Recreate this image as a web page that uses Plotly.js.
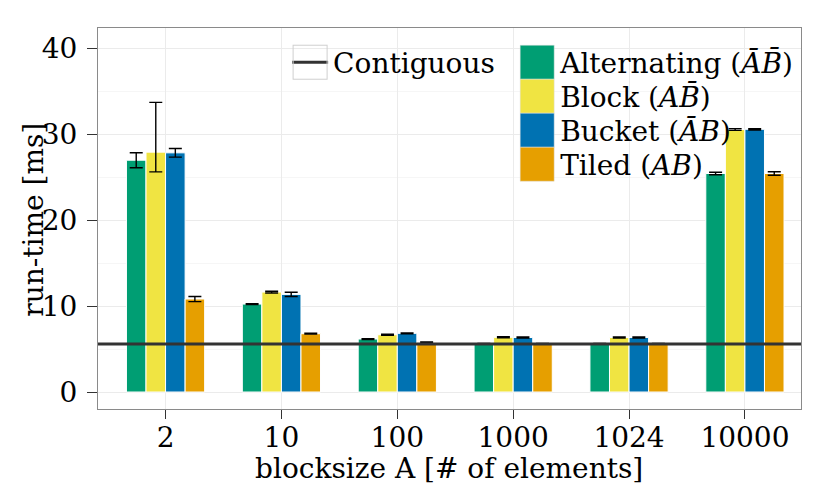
<!DOCTYPE html>
<html>
<head>
<meta charset="utf-8">
<script src="https://cdn.plot.ly/plotly-3.0.1.min.js"></script>
<style>
  body { margin: 0; background: #fff; }
  #myDiv { width: 830px; height: 498px; }
</style>
</head>
<body>
<div id="myDiv"></div>
<script>
//  ======== DATA ========
var categories = ['2', '10', '100', '1000', '1024', '10000'];

var alternating    = [27.0, 10.24, 6.17, 5.62, 5.62, 25.45];
var alternatingErr = [0.87, 0.05, 0.05, 0.04, 0.04, 0.15];

var block          = [27.94, 11.64, 6.67, 6.37, 6.35, 30.58];
var blockErrPlus   = [5.8, 0.1, 0.07, 0.06, 0.06, 0.1];
var blockErrMinus  = [2.3, 0.1, 0.07, 0.06, 0.06, 0.1];

var bucket         = [27.86, 11.37, 6.83, 6.35, 6.35, 30.6];
var bucketErr      = [0.5, 0.25, 0.05, 0.06, 0.06, 0.08];

var tiled          = [10.83, 6.79, 5.78, 5.62, 5.62, 25.45];
var tiledErr       = [0.3, 0.05, 0.04, 0.04, 0.04, 0.2];

var contiguous = 5.6;

var names = [
  'Alternating (<i>\u0100B\u0304</i>)',
  'Block (<i>AB\u0304</i>)',
  'Bucket (<i>\u0100B</i>)',
  'Tiled (<i>AB</i>)'
];
var colors = ['#009E73', '#F0E442', '#0072B2', '#E69F00'];

var xTitle = 'blocksize A [# of elements]';
var yTitle = 'run-time [ms]';

//  ======== PLOTLY ========
var FONT = 'DejaVu Serif, serif';
var FS = 28;
var KEY = 34;        // legend key size (ggplot style squares)
var ITEMW = 36;      // legend item width
var KEYX = 5 + ITEMW / 2;   // key centre inside a legend item

function barTrace(i, y, plus, minus) {
  var err = {
    type: 'data',
    array: plus,
    visible: true,
    color: '#000',
    thickness: 1.4,
    width: 6.5
  };
  if (minus) {
    err.symmetric = false;
    err.arrayminus = minus;
  }
  return {
    type: 'bar',
    x: categories,
    y: y,
    name: names[i],
    legend: 'legend2',
    marker: { color: colors[i], line: { color: '#fff', width: 1 } },
    error_y: err
  };
}

var data = [
  barTrace(0, alternating, alternatingErr),
  barTrace(1, block, blockErrPlus, blockErrMinus),
  barTrace(2, bucket, bucketErr),
  barTrace(3, tiled, tiledErr)
];

var layout = {
  width: 830,
  height: 498,
  margin: { l: 98, r: 29, t: 28, b: 89, pad: 0 },
  paper_bgcolor: '#fff',
  plot_bgcolor: '#fff',
  font: { family: FONT, size: FS, color: '#000' },
  barmode: 'group',
  bargap: 0.325,
  bargroupgap: 0,
  xaxis: {
    type: 'category',
    range: [-0.583, 5.484],
    showgrid: true,
    gridcolor: '#ebebeb',
    gridwidth: 1,
    showline: true,
    linecolor: '#8a8a8a',
    linewidth: 1,
    mirror: true,
    ticks: 'outside',
    ticklen: 9,
    tickcolor: '#333',
    ticklabelstandoff: -6,
    tickfont: { family: FONT, size: FS, color: '#000' },
    automargin: false,
    fixedrange: true
  },
  yaxis: {
    range: [-1.98, 42.4],
    tickvals: [0, 10, 20, 30, 40],
    showgrid: true,
    gridcolor: '#ebebeb',
    gridwidth: 1,
    minor: { tickvals: [5, 15, 25, 35], showgrid: true, gridcolor: '#f6f6f6', ticks: '' },
    zeroline: false,
    showline: true,
    linecolor: '#8a8a8a',
    linewidth: 1,
    mirror: true,
    ticks: 'outside',
    ticklen: 10,
    tickcolor: '#333',
    ticklabelstandoff: 4,
    tickfont: { family: FONT, size: FS, color: '#000' },
    automargin: false,
    fixedrange: true
  },
  annotations: [
    { text: xTitle, xref: 'paper', yref: 'paper', x: 0.4986, y: -0.155,
      xanchor: 'center', yanchor: 'middle', showarrow: false,
      font: { family: FONT, size: FS, color: '#000' } },
    { text: yTitle, xref: 'paper', yref: 'paper', x: -0.093, y: 0.496,
      xanchor: 'center', yanchor: 'middle', showarrow: false, textangle: -90,
      font: { family: FONT, size: FS, color: '#000' } }
  ],
  shapes: [{
    type: 'line',
    xref: 'paper', x0: 0, x1: 1,
    yref: 'y', y0: contiguous, y1: contiguous,
    line: { color: '#333', width: 3 },
    name: 'Contiguous',
    showlegend: true,
    legend: 'legend'
  }],
  legend: {
    x: 0.269, xanchor: 'left',
    y: 0.975, yanchor: 'top',
    bgcolor: 'rgba(0,0,0,0)',
    borderwidth: 0,
    itemwidth: ITEMW,
    font: { family: FONT, size: FS, color: '#000' }
  },
  legend2: {
    x: 0.592, xanchor: 'left',
    y: 0.975, yanchor: 'top',
    bgcolor: 'rgba(0,0,0,0)',
    borderwidth: 0,
    itemwidth: ITEMW,
    traceorder: 'normal',
    font: { family: FONT, size: FS, color: '#000' }
  },
  showlegend: true
};

function styleLegends(gd) {
  var h = KEY / 2;
  var items = gd.querySelectorAll('g.traces');
  var firstY = {};
  var count = {};
  items.forEach(function (it) {
    var txt = it.textContent || '';
    var pts = it.querySelector('.legendpoints');
    if (!pts) return;
    if (txt.indexOf('Contiguous') >= 0) {
      // grey framed key with a short line, centred like the bar keys
      pts.querySelectorAll('path').forEach(function (p) {
        p.removeAttribute('transform');
        p.setAttribute('d', 'M' + (KEYX - 14) + ',0h28');
      });
      if (!pts.querySelector('rect.keybox')) {
        var r = document.createElementNS('http://www.w3.org/2000/svg', 'rect');
        r.setAttribute('class', 'keybox');
        r.setAttribute('x', KEYX - h); r.setAttribute('y', -h);
        r.setAttribute('width', KEY); r.setAttribute('height', KEY);
        r.setAttribute('style', 'fill:none;stroke:#cfcfcf;stroke-width:1px');
        pts.insertBefore(r, pts.firstChild);
      }
    } else {
      pts.querySelectorAll('path').forEach(function (p) {
        p.setAttribute('d', 'M' + h + ',' + h + 'H-' + h + 'V-' + h + 'H' + h + 'Z');
        p.style.stroke = '#e0e0e0';
        p.style.strokeWidth = '0.5px';
      });
      // tighten vertical spacing so the keys touch like in ggplot
      var parent = it.parentNode;
      var key = parent ? (parent.getAttribute('class') || 'p') : 'p';
      var m = /translate\(\s*([-\d.]+)[ ,]+([-\d.]+)\s*\)/.exec(it.getAttribute('transform') || '');
      if (m) {
        if (firstY[key] === undefined) { firstY[key] = parseFloat(m[2]); count[key] = 0; }
        var ny = firstY[key] + count[key] * KEY;
        count[key]++;
        it.setAttribute('transform', 'translate(' + m[1] + ',' + ny + ')');
      }
    }
  });
}

Plotly.newPlot('myDiv', data, layout, { displayModeBar: false, staticPlot: true }).then(function (gd) {
  styleLegends(gd);
});
</script>
</body>
</html>
